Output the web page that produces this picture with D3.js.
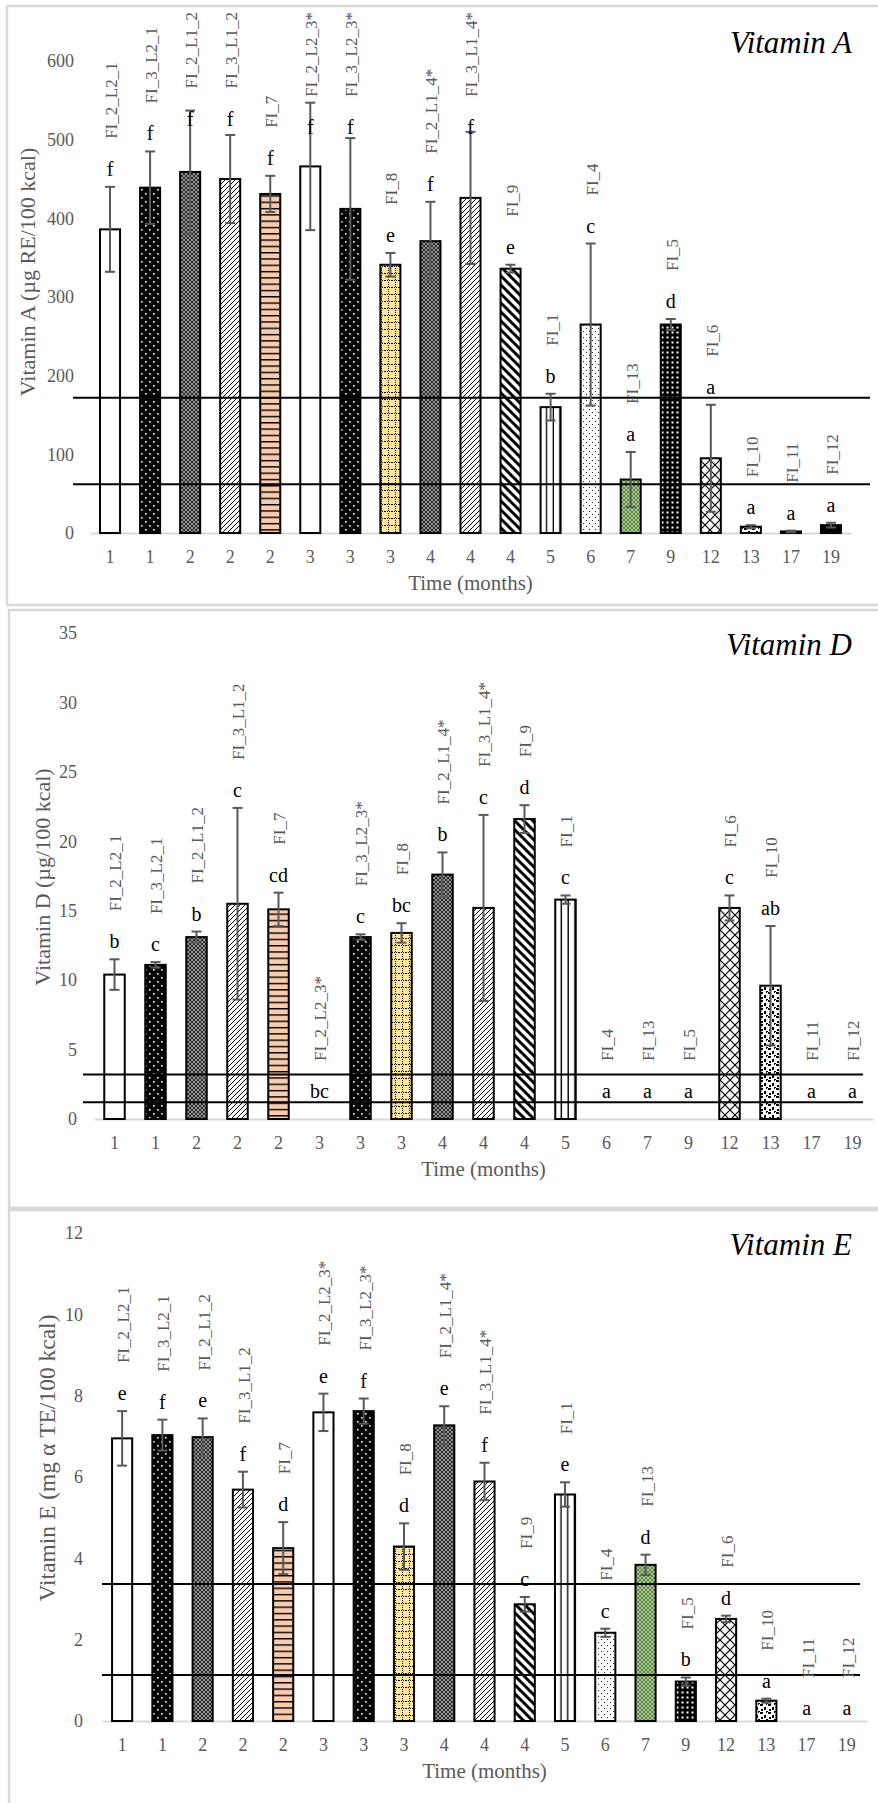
<!DOCTYPE html>
<html>
<head>
<meta charset="utf-8">
<script src="https://cdn.jsdelivr.net/npm/d3@7"></script>
<style>
  body { margin: 0; background: #fff; }
  text { font-family: "Liberation Serif", "Times New Roman", "DejaVu Serif", serif; }
</style>
</head>
<body>
<script>
// x categories (time in months) and formula names, one per bar
const months = ["1","1","2","2","2","3","3","3","4","4","4","5","6","7","9","12","13","17","19"];
const formulas = ["FI_2_L2_1","FI_3_L2_1","FI_2_L1_2","FI_3_L1_2","FI_7","FI_2_L2_3*","FI_3_L2_3*","FI_8",
                  "FI_2_L1_4*","FI_3_L1_4*","FI_9","FI_1","FI_4","FI_13","FI_5","FI_6","FI_10","FI_11","FI_12"];

// Vitamin A (µg RE/100 kcal)
const vitA        = [386, 439, 459, 450, 431, 466, 412, 341, 371, 426, 336, 160, 265, 68, 265, 95, 8, 2, 10];
const vitAErr     = [54, 46, 78, 56, 23, 81, 90, 15, 50, 84, 5, 17, 103, 35, 7, 68, 2, 1, 3];
const vitALetters = ["f","f","f","f","f","f","f","e","f","f","e","b","c","a","d","a","a","a","a"];
const vitALimits  = [62, 172];
const vitATicks   = [0, 100, 200, 300, 400, 500, 600];

// Vitamin D (µg/100 kcal)
const vitD        = [10.4, 11.1, 13.1, 15.5, 15.1, 0, 13.1, 13.4, 17.6, 15.2, 21.6, 15.8, 0, 0, 0, 15.2, 9.6, 0, 0];
const vitDErr     = [1.1, 0.2, 0.4, 6.9, 1.2, 0, 0.2, 0.7, 1.6, 6.7, 1.0, 0.3, 0, 0, 0, 0.9, 4.3, 0, 0];
const vitDLetters = ["b","c","b","c","cd","bc","c","bc","b","c","d","c","a","a","a","c","ab","a","a"];
const vitDLimits  = [1.2, 3.2];
const vitDTicks   = [0, 5, 10, 15, 20, 25, 30, 35];

// Vitamin E (mg α TE/100 kcal)
const vitE        = [6.95, 7.03, 6.98, 5.69, 4.25, 7.59, 7.62, 4.29, 7.27, 5.89, 2.87, 5.57, 2.17, 3.84, 0.97, 2.51, 0.5, 0, 0];
const vitEErr     = [0.67, 0.38, 0.46, 0.44, 0.64, 0.46, 0.31, 0.57, 0.47, 0.46, 0.18, 0.3, 0.1, 0.25, 0.1, 0.08, 0.05, 0, 0];
const vitELetters = ["e","f","e","f","d","e","f","d","e","f","c","e","c","d","b","d","a","a","a"];
const vitELimits  = [1.13, 3.37];
const vitETicks   = [0, 2, 4, 6, 8, 10, 12];

const W = 878, H = 1803;
const grey = "#595959";

const svg = d3.select("body").append("svg")
    .attr("width", W)
    .attr("height", H);
const defs = svg.append("defs");

// hatch patterns, roughly like the excel fills
function pattern(id, w, h, bg, draw, unitsBox) {
    const p = defs.append("pattern")
        .attr("id", id)
        .attr("patternUnits", unitsBox ? "objectBoundingBox" : "userSpaceOnUse")
        .attr("width", w)
        .attr("height", h);
    p.append("rect").attr("width", unitsBox ? 100 : w).attr("height", unitsBox ? 3000 : h).attr("fill", bg);
    draw(p);
}

pattern("p-blackdots", 8, 8, "#000", p => {
    p.append("rect").attr("x", 1).attr("y", 1).attr("width", 1.6).attr("height", 1.6).attr("fill", "#fff");
    p.append("rect").attr("x", 5).attr("y", 5).attr("width", 1.6).attr("height", 1.6).attr("fill", "#fff");
});
pattern("p-darkcross", 4, 4, "#2a2a2a", p => {
    p.append("path").attr("d", "M0,0L4,4M4,0L0,4").attr("stroke", "#b0b0b0").attr("stroke-width", 0.8);
});
pattern("p-thindiag", 5, 5, "#fff", p => {
    p.append("path").attr("d", "M0,5L5,0M-1,1L1,-1M4,6L6,4").attr("stroke", "#000").attr("stroke-width", 1);
});
pattern("p-salmon", 6, 6.3, "#f8cbad", p => {
    p.append("rect").attr("width", 6).attr("height", 1.4).attr("fill", "#000");
});
pattern("p-yellow", 7, 7, "#ffe699", p => {
    [0, 2, 4, 6].forEach(v => p.append("rect").attr("x", v).attr("y", 0).attr("width", 1).attr("height", 1).attr("fill", "#000"));
    [2, 4, 6].forEach(v => p.append("rect").attr("x", 3).attr("y", v).attr("width", 1).attr("height", 1).attr("fill", "#000"));
});
pattern("p-bolddiag", 9, 9, "#fff", p => {
    p.append("path").attr("d", "M0,0L9,9M-2,7L2,11M7,-2L11,2").attr("stroke", "#000").attr("stroke-width", 3);
});
pattern("p-vstripes", 0.3333, 1, "#fff", p => {
    p.append("rect").attr("x", 5.4).attr("width", 2.4).attr("height", 3000).attr("fill", "#000");
}, true);
pattern("p-lightdots", 6, 6, "#fff", p => {
    p.append("circle").attr("cx", 1.5).attr("cy", 1.5).attr("r", 0.6).attr("fill", "#000");
    p.append("circle").attr("cx", 4.5).attr("cy", 4.5).attr("r", 0.6).attr("fill", "#000");
});
pattern("p-green", 4, 4, "#a9d18e", p => {
    p.append("path").attr("d", "M0,0L4,4M4,0L0,4").attr("stroke", "#3d5c2c").attr("stroke-width", 0.7);
});
pattern("p-blackgrid", 5, 5, "#000", p => {
    p.append("rect").attr("x", 1.5).attr("y", 1.5).attr("width", 2).attr("height", 2).attr("fill", "#fff");
});
pattern("p-bigx", 10, 10, "#fff", p => {
    p.append("path").attr("d", "M0,0L10,10M10,0L0,10").attr("stroke", "#000").attr("stroke-width", 1.2);
});
pattern("p-confetti", 8, 8, "#fff", p => {
    [[0, 0, 3, 2], [4, 3, 2, 3], [1, 5, 2, 2], [6, 7, 2, 1], [6, 0, 1, 1]].forEach(r =>
        p.append("rect").attr("x", r[0]).attr("y", r[1]).attr("width", r[2]).attr("height", r[3]).attr("fill", "#000"));
});

const fills = {
    "FI_2_L2_1": "#fff", "FI_3_L2_1": "url(#p-blackdots)", "FI_2_L1_2": "url(#p-darkcross)",
    "FI_3_L1_2": "url(#p-thindiag)", "FI_7": "url(#p-salmon)", "FI_2_L2_3*": "#fff",
    "FI_3_L2_3*": "url(#p-blackdots)", "FI_8": "url(#p-yellow)", "FI_2_L1_4*": "url(#p-darkcross)",
    "FI_3_L1_4*": "url(#p-thindiag)", "FI_9": "url(#p-bolddiag)", "FI_1": "url(#p-vstripes)",
    "FI_4": "url(#p-lightdots)", "FI_13": "url(#p-green)", "FI_5": "url(#p-blackgrid)",
    "FI_6": "url(#p-bigx)", "FI_10": "url(#p-confetti)", "FI_11": "#fff", "FI_12": "#000"
};

const panels = [
    { title: "Vitamin A", yTitle: "Vitamin A (µg RE/100 kcal)", values: vitA, errors: vitAErr,
      letters: vitALetters, limits: vitALimits, ticks: vitATicks,
      frame: [7, 6, 605], x0: 90, x1: 851, yTop: 61, y0: 533, yTitleX: 27, yTitleY: 272, yTitleSize: 22,
      tickX: 74, refX: [73, 870], titleY: 53, zeroGap: 11 },
    { title: "Vitamin D", yTitle: "Vitamin D (µg/100 kcal)", values: vitD, errors: vitDErr,
      letters: vitDLetters, limits: vitDLimits, ticks: vitDTicks,
      frame: [9, 610, 1208], x0: 94, x1: 873, yTop: 633, y0: 1119, yTitleX: 42, yTitleY: 877, yTitleSize: 22,
      tickX: 77, refX: [83, 863], titleY: 655, zeroGap: 21 },
    { title: "Vitamin E", yTitle: "Vitamin E (mg α TE/100 kcal)", values: vitE, errors: vitEErr,
      letters: vitELetters, limits: vitELimits, ticks: vitETicks,
      frame: [9, 1210, 1830], x0: 102, x1: 867, yTop: 1233, y0: 1721, yTitleX: 47, yTitleY: 1458, yTitleSize: 23.5,
      tickX: 83, refX: [102, 860], titleY: 1255, zeroGap: 6 }
];

panels.forEach((p, k) => {
    const g = svg.append("g");

    // light grey panel border
    g.append("rect")
        .attr("x", p.frame[0]).attr("y", p.frame[1])
        .attr("width", W + 20).attr("height", p.frame[2] - p.frame[1])
        .attr("fill", "#fff").attr("stroke", "#d9d9d9").attr("stroke-width", 2.5);

    const x = d3.scaleBand()
        .domain(d3.range(months.length))
        .range([p.x0, p.x1])
        .paddingInner(0.5)
        .paddingOuter(0.25);
    const y = d3.scaleLinear()
        .domain([0, d3.max(p.ticks)])
        .range([p.y0, p.yTop]);

    // y axis: labels only
    const yAxis = g.append("g")
        .attr("transform", `translate(${p.tickX + 3},0)`)
        .call(d3.axisLeft(y).tickValues(p.ticks).tickSize(0).tickPadding(3))
        .attr("font-family", null).attr("font-size", null);
    yAxis.select(".domain").remove();
    yAxis.selectAll("text").attr("fill", grey).style("font-size", "18px");

    // x axis
    const xAxis = g.append("g")
        .attr("transform", `translate(0,${p.y0})`)
        .call(d3.axisBottom(x).tickFormat(i => months[i]).tickSize(0).tickSizeOuter(0).tickPadding(17))
        .attr("font-family", null).attr("font-size", null);
    xAxis.select(".domain").attr("stroke", "#d9d9d9").attr("stroke-width", 2);
    xAxis.selectAll("text").attr("fill", grey).style("font-size", "18px");

    const idx = d3.range(months.length);
    const cx = i => x(i) + x.bandwidth() / 2;

    // bars
    g.append("g").selectAll("rect")
        .data(idx.filter(i => p.values[i] > 0))
        .join("rect")
        .attr("x", i => x(i))
        .attr("width", x.bandwidth())
        .attr("y", i => y(p.values[i]))
        .attr("height", i => p.y0 - y(p.values[i]))
        .attr("fill", i => fills[formulas[i]])
        .attr("stroke", "#000")
        .attr("stroke-width", 2);

    // regulatory limit lines
    g.append("g").selectAll("line")
        .data(p.limits)
        .join("line")
        .attr("x1", p.refX[0]).attr("x2", p.refX[1])
        .attr("y1", d => y(d)).attr("y2", d => y(d))
        .attr("stroke", "#000").attr("stroke-width", 2);

    // error bars
    const eb = g.append("g").attr("stroke", grey).attr("stroke-width", 2);
    idx.filter(i => p.errors[i] > 0).forEach(i => {
        const lo = y(Math.max(0, p.values[i] - p.errors[i]));
        const hi = y(p.values[i] + p.errors[i]);
        eb.append("line").attr("x1", cx(i)).attr("x2", cx(i)).attr("y1", lo).attr("y2", hi);
        [lo, hi].forEach(v => eb.append("line")
            .attr("x1", cx(i) - 5).attr("x2", cx(i) + 5).attr("y1", v).attr("y2", v));
    });

    // significance letters and formula labels, pushed down when they'd run off the top
    const lab = g.append("g");
    idx.forEach(i => {
        let base = y(p.values[i] + p.errors[i]) - (p.values[i] > 0 ? 11 : p.zeroGap);
        const name = lab.append("text")
            .attr("dy", "0.35em")
            .style("font-size", "17px")
            .attr("fill", grey)
            .text(formulas[i]);
        const len = name.node().getComputedTextLength();
        const top = base - 37 - len;
        const minTop = p.frame[1] + 6;
        if (top < minTop) base += minTop - top;
        name.attr("transform", `translate(${cx(i) + 1},${base - 37}) rotate(-90)`);
        lab.append("text")
            .attr("x", cx(i)).attr("y", base)
            .attr("text-anchor", "middle")
            .style("font-size", "20px")
            .attr("fill", "#000")
            .text(p.letters[i]);
    });

    // titles
    g.append("text")
        .attr("x", 852).attr("y", p.titleY)
        .attr("text-anchor", "end")
        .style("font-size", "31px").style("font-style", "italic")
        .attr("fill", "#000")
        .text(p.title);

    g.append("text")
        .attr("transform", `translate(${p.yTitleX},${p.yTitleY}) rotate(-90)`)
        .attr("text-anchor", "middle")
        .attr("dy", "0.35em")
        .style("font-size", p.yTitleSize + "px")
        .attr("fill", grey)
        .text(p.yTitle);

    g.append("text")
        .attr("x", (p.x0 + p.x1) / 2).attr("y", p.y0 + 57)
        .attr("text-anchor", "middle")
        .style("font-size", "21px")
        .attr("fill", grey)
        .text("Time (months)");
});
</script>
</body>
</html>
